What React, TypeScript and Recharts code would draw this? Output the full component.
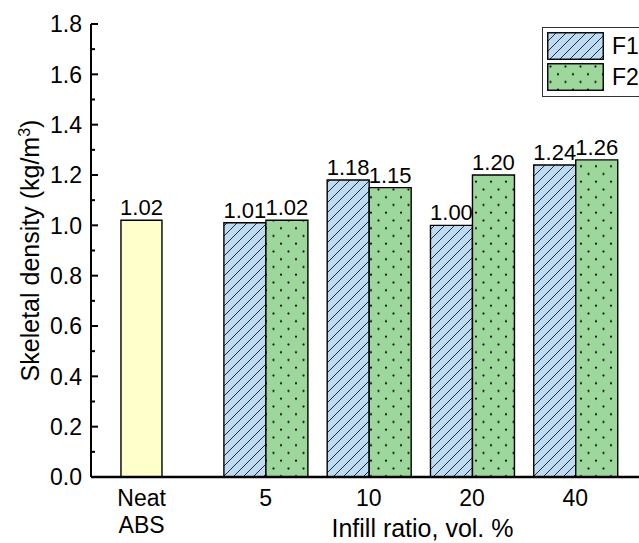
import React from "react";
import {
  Bar,
  BarChart,
  LabelList,
  Legend,
  XAxis,
  YAxis,
} from "recharts";

// categories along the x axis and where they sit (5 = 1.2 units right of Neat ABS)
const categories = ["Neat\nABS", "5", "10", "20", "40"];
const positions = [0, 1.2, 2.2, 3.2, 4.2];

// skeletal density, kg/m3
const neatValues = [1.02, null, null, null, null];
const f1Values = [null, 1.01, 1.18, 1.0, 1.24];
const f2Values = [null, 1.02, 1.15, 1.2, 1.26];

const seriesNames = ["F1", "F2"];
const yTicks = [0, 0.1, 0.2, 0.3, 0.4, 0.5, 0.6, 0.7, 0.8, 0.9, 1.0, 1.1, 1.2, 1.3, 1.4, 1.5, 1.6, 1.7, 1.8];
const xDomain = [-0.49, 5];

const FONT = '"Liberation Sans", Arial, sans-serif';
const NEAT_FILL = "#FFFFCC";
const F1_FILL = "#BDDCF3";
const F2_FILL = "#9DD79B";

const data = categories.map((name, i) => ({
  name,
  pos: positions[i],
  neat: neatValues[i],
  f1: f1Values[i],
  f2: f2Values[i],
}));

const fmt = (v: unknown) => (typeof v === "number" ? v.toFixed(2) : "");

function YTick({ x, y, payload }: any) {
  const v = payload.value as number;
  const major = Math.round(v * 10) % 2 === 0;
  return (
    <g>
      <line x1={x + 9} y1={y} x2={x + 9 + (major ? 7 : 4)} y2={y} stroke="#000" strokeWidth={2} />
      {major && (
        <text x={x} y={y} dy="0.36em" textAnchor="end" fontSize={23} fill="#000">
          {v.toFixed(1)}
        </text>
      )}
    </g>
  );
}

function XTick({ x, y, payload }: any) {
  const idx = positions.indexOf(payload.value);
  const lines = (categories[idx] ?? "").split("\n");
  return (
    <text x={x} y={y} textAnchor="middle" fontSize={23} fill="#000">
      {lines.map((l, i) => (
        <tspan key={i} x={x} dy={i === 0 ? "0.72em" : 27}>
          {l}
        </tspan>
      ))}
    </text>
  );
}

function LegendBox() {
  const fills = ["url(#hatchF1)", "url(#dotsF2)"];
  return (
    <div style={{ border: "1px solid #333", padding: "4px 4px 2px 4px", width: 140, background: "#fff" }}>
      {seriesNames.map((n, i) => (
        <div key={n} style={{ display: "flex", alignItems: "center", height: 28, marginBottom: 3 }}>
          <svg width={57} height={28}>
            <rect x={0.75} y={0.75} width={55.5} height={26.5} fill={fills[i]} stroke="#000" strokeWidth={1.4} />
          </svg>
          <span style={{ marginLeft: 8, fontSize: 23, lineHeight: 1, color: "#000" }}>{n}</span>
        </div>
      ))}
    </div>
  );
}

export default function App() {
  return (
    <div
      style={{
        position: "absolute",
        left: 0,
        top: 0,
        width: 639,
        height: 543,
        overflow: "hidden",
        background: "#fff",
        fontFamily: FONT,
      }}
    >
      <BarChart
        width={658}
        height={543}
        data={data}
        margin={{ top: 24, right: 0, bottom: 0, left: 0 }}
        barGap={0}
      >
        <defs>
          <pattern id="hatchF1" patternUnits="userSpaceOnUse" width={10} height={10}>
            <rect width={10} height={10} fill={F1_FILL} />
            <path d="M0,10 L10,0 M-2,2 L2,-2 M8,12 L12,8" stroke="#000" strokeWidth={0.8} />
          </pattern>
          <pattern id="dotsF2" patternUnits="userSpaceOnUse" width={15} height={15.5}>
            <rect width={15} height={15.5} fill={F2_FILL} />
            <circle cx={3.5} cy={3.5} r={1.1} fill="#000" />
            <circle cx={11} cy={11.25} r={1.1} fill="#000" />
          </pattern>
        </defs>
        <XAxis
          xAxisId="main"
          dataKey="pos"
          type="number"
          domain={xDomain}
          ticks={positions}
          interval={0}
          height={66}
          tickLine={false}
          tickSize={0}
          tickMargin={12}
          tick={<XTick />}
          axisLine={{ stroke: "#000", strokeWidth: 2.5 }}
          label={{
            content: ({ viewBox }: any) => (
              <text
                x={viewBox.x + viewBox.width / 2 + 48}
                y={viewBox.y + 60}
                textAnchor="middle"
                fontSize={25}
                fill="#000"
              >
                Infill ratio, vol. %
              </text>
            ),
          }}
        />
        <XAxis
          xAxisId="top"
          dataKey="pos"
          type="number"
          orientation="top"
          domain={xDomain}
          ticks={positions}
          height={0}
          tick={false}
          tickLine={false}
          axisLine={{ stroke: "#000", strokeWidth: 2 }}
        />
        <YAxis
          type="number"
          domain={[0, 1.8]}
          ticks={yTicks}
          interval={0}
          width={91}
          tickLine={false}
          tickSize={0}
          tickMargin={9}
          tick={<YTick />}
          axisLine={{ stroke: "#000", strokeWidth: 2 }}
          label={{
            content: ({ viewBox }: any) => {
              const cx = viewBox.x + 30;
              const cy = viewBox.y + viewBox.height / 2;
              return (
                <text
                  x={cx}
                  y={cy}
                  transform={`rotate(-90 ${cx} ${cy})`}
                  textAnchor="middle"
                  dy="0.36em"
                  fontSize={25}
                  fill="#000"
                >
                  Skeletal density (kg/m
                  <tspan fontSize={16} dy={-9}>3</tspan>
                  <tspan dy={9}>)</tspan>
                </text>
              );
            },
          }}
        />
        <Legend
          layout="vertical"
          verticalAlign="middle"
          align="center"
          content={() => <LegendBox />}
          wrapperStyle={{ left: 542, top: 27, width: 160 }}
        />
        <Bar
          xAxisId="top"
          dataKey="neat"
          name="Neat ABS"
          barSize={41}
          fill={NEAT_FILL}
          stroke="#000"
          strokeWidth={1.4}
          isAnimationActive={false}
          legendType="none"
        >
          <LabelList dataKey="neat" position="top" offset={5} fontSize={22} fill="#000" formatter={fmt} />
        </Bar>
        <Bar
          xAxisId="main"
          dataKey="f1"
          name={seriesNames[0]}
          barSize={42}
          fill="url(#hatchF1)"
          stroke="#000"
          strokeWidth={1.4}
          isAnimationActive={false}
        >
          <LabelList dataKey="f1" position="top" offset={5} fontSize={22} fill="#000" formatter={fmt} />
        </Bar>
        <Bar
          xAxisId="main"
          dataKey="f2"
          name={seriesNames[1]}
          barSize={42}
          fill="url(#dotsF2)"
          stroke="#000"
          strokeWidth={1.4}
          isAnimationActive={false}
        >
          <LabelList dataKey="f2" position="top" offset={5} fontSize={22} fill="#000" formatter={fmt} />
        </Bar>
      </BarChart>
    </div>
  );
}
